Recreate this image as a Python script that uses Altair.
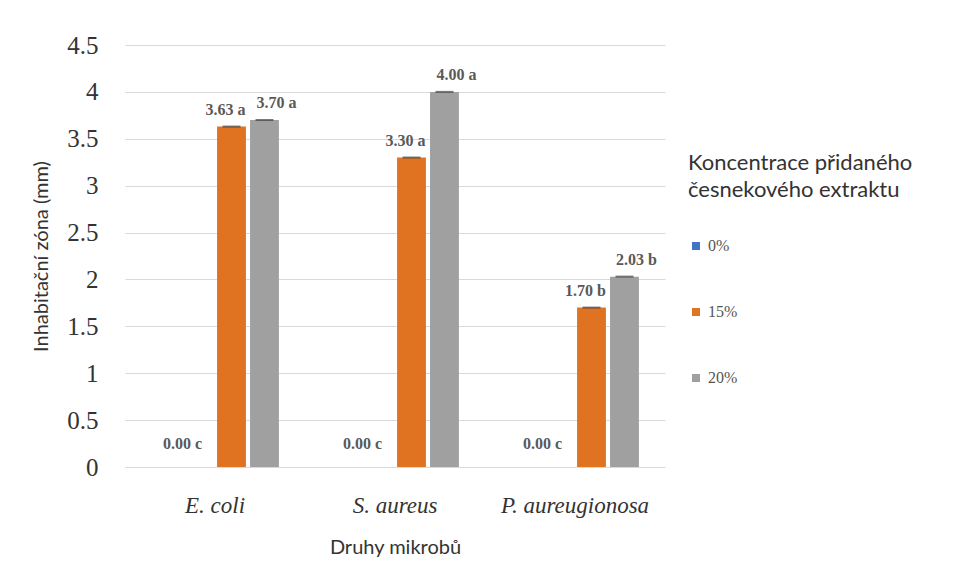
import altair as alt
import pandas as pd

microbes = ["E. coli", "S. aureus", "P. aureugionosa"]
concentrations = ["0%", "15%", "20%"]
vals_0 = [0.00, 0.00, 0.00]
vals_15 = [3.63, 3.30, 1.70]
vals_20 = [3.70, 4.00, 2.03]
letters_0 = ["c", "c", "c"]
letters_15 = ["a", "a", "b"]
letters_20 = ["a", "a", "b"]
colors = ["#4472c4", "#e07322", "#a0a0a0"]

rows = []
for conc, vals, lets in zip(concentrations, [vals_0, vals_15, vals_20],
                            [letters_0, letters_15, letters_20]):
    for m, v, l in zip(microbes, vals, lets):
        rows.append({"microbe": m, "conc": conc, "value": v,
                     "label": f"{v:.2f} {l}"})
df = pd.DataFrame(rows)

SERIF = "Liberation Serif"

x_enc = alt.X("microbe:N", sort=microbes, title="Druhy mikrobů",
              scale=alt.Scale(paddingInner=0.29, paddingOuter=0.145),
              axis=alt.Axis(labelFont=SERIF, labelFontStyle="italic",
                            labelFontSize=23, labelColor="#333333", labelAngle=0,
                            labelPadding=27, ticks=False, domain=False,
                            grid=False,
                            titleFont="Lato", titleFontSize=20, titleFontWeight="normal",
                            titleColor="#333333", titlePadding=20))
# an empty first slot keeps the group right of the category centre, as in the original
xo_enc = alt.XOffset("conc:N",
                     scale=alt.Scale(domain=[" "] + concentrations, paddingInner=0.125))
y_enc = alt.Y("value:Q", title="Inhabitační zóna (mm)",
              scale=alt.Scale(domain=[0, 4.5]),
              axis=alt.Axis(values=[0, 0.5, 1, 1.5, 2, 2.5, 3, 3.5, 4, 4.5],
                            format="~g", labelFont=SERIF, labelFontSize=25,
                            labelColor="#333333", labelPadding=27, ticks=False,
                            domain=False, gridColor="#d9d9d9", gridWidth=1,
                            titleFont="Lato", titleFontSize=20, titleFontWeight="normal",
                            titleColor="#333333", titlePadding=15))

base = alt.Chart(df)

bars = base.mark_bar().encode(
    x=x_enc, xOffset=xo_enc, y=y_enc,
    color=alt.Color("conc:N", sort=concentrations,
                    scale=alt.Scale(domain=concentrations, range=colors),
                    legend=alt.Legend(
                        title=["Koncentrace přidaného", "česnekového extraktu"],
                        orient="none", legendX=563, legendY=108,
                        titleFont="Lato", titleFontSize=22, titleFontWeight="normal",
                        titleColor="#333333", titlePadding=36, titleLimit=400,
                        titleLineHeight=27,
                        labelFont=SERIF, labelFontSize=16,
                        labelColor="#555555", symbolType="square", symbolSize=64,
                        symbolStrokeWidth=0, rowPadding=50)),
)

caps = base.mark_tick(color="#404040", thickness=2, size=18).encode(
    x=x_enc, xOffset=xo_enc, y=y_enc,
).transform_filter(alt.datum.value > 0)

label_layers = []
for conc, dx, dy in [("0%", -16, -15), ("15%", -6, -9), ("20%", 12, -9)]:
    label_layers.append(
        base.transform_filter(alt.datum.conc == conc).mark_text(
            font=SERIF, fontSize=16, fontWeight="bold",
            color="#595959", baseline="bottom", dx=dx, dy=dy
        ).encode(x=x_enc, xOffset=xo_enc, y=y_enc, text="label:N")
    )

chart = alt.layer(bars, caps, *label_layers).properties(
    width=540, height=422,
    autosize=alt.AutoSizeParams(type="none"),
    padding={"left": 117, "top": 37, "right": 290, "bottom": 100},
).configure(background="white").configure_view(stroke=None).configure_axisY(
    labelFont=SERIF, labelFontSize=25
).configure_legend(labelFont=SERIF)

chart.save("out.html", embed_options={"renderer": "svg", "actions": False})
